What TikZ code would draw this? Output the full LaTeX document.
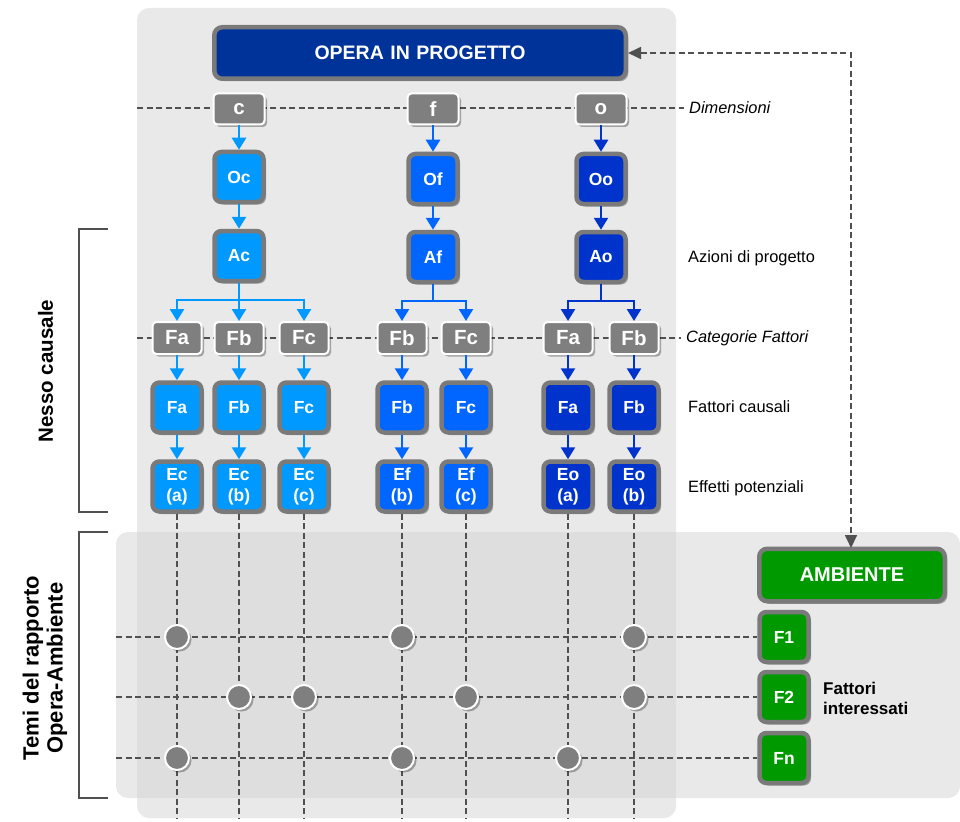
\documentclass[tikz,border=0pt]{standalone}
\usepackage{fontspec}
\setmainfont{Liberation Sans}
\usetikzlibrary{arrows.meta,shadows}
\definecolor{panel}{HTML}{E9E9E9}
\definecolor{overlap}{HTML}{DEDEDE}
\definecolor{bordergray}{HTML}{7A7A7A}
\definecolor{dimgray}{HTML}{7F7F7F}
\definecolor{dashgray}{HTML}{505050}
\definecolor{cblue}{HTML}{0099FF}
\definecolor{fblue}{HTML}{0066FF}
\definecolor{oblue}{HTML}{0033CC}
\definecolor{opblue}{HTML}{003399}
\definecolor{envgreen}{HTML}{009900}
\tikzset{
  shad/.style={drop shadow={shadow xshift=2.5pt,shadow yshift=-2.5pt,opacity=0.3,fill=black}},
  bigbox/.style={shad,rounded corners=8pt,line width=4.5pt,draw=bordergray,text=white,
    font=\bfseries\fontsize{20}{22}\selectfont},
  sqbox/.style={shad,rounded corners=7pt,line width=4.5pt,draw=bordergray,text=white,
    minimum width=49pt,minimum height=50pt,inner sep=0pt,align=center,
    font=\bfseries\fontsize{17.5}{21}\selectfont},
  dimbox/.style={shad,rounded corners=4pt,line width=2pt,draw=white,fill=dimgray,text=white,
    minimum width=51pt,minimum height=31pt,inner sep=0pt,
    font=\bfseries\fontsize{20.5}{22}\selectfont},
  dot/.style={shad,circle,fill=dimgray,draw=white,line width=2pt,minimum size=24pt,inner sep=0pt},
  dline/.style={dashgray,line width=1.7pt,dash pattern=on 6pt off 3.5pt},
  arr/.style={line width=2.5pt,-{Triangle[width=14pt,length=12pt]}},
  lab/.style={anchor=west,text=black,font=\fontsize{16.4}{18}\selectfont,inner sep=0pt},
  ilab/.style={lab,font=\itshape\fontsize{16.4}{18}\selectfont},
  side/.style={rotate=90,align=center,font=\bfseries\fontsize{20.5}{24}\selectfont},
}
\begin{document}
\begin{tikzpicture}[x=1pt,y=-1pt]
\useasboundingbox (0,0) rectangle (960,821);
% panels
\fill[panel,rounded corners=12pt] (137,8) rectangle (676,818);
\fill[panel,rounded corners=12pt] (116,532) rectangle (960,798);
\fill[overlap] (137,532) rectangle (676,798);
% dashed row lines
\draw[dline] (137,108) -- (684,108);
\draw[dline] (137,338) -- (681,338);
% nodes top
\node[bigbox,fill=opblue,minimum width=411.5pt,minimum height=51.5pt,font=\bfseries\fontsize{19.5}{22}\selectfont] (op) at (420,53) {OPERA\,\,IN\,\,PROGETTO};
\node[dimbox] (dc) at (239,109) {c};
\node[dimbox] (df) at (433,109) {f};
\node[dimbox] (do) at (601,109) {o};
\node[sqbox,fill=cblue] (oc) at (239,177) {Oc};
\node[sqbox,fill=fblue] (of) at (433,179) {Of};
\node[sqbox,fill=oblue] (oo) at (601,179) {Oo};
\node[sqbox,fill=cblue] (ac) at (239,256) {Ac};
\node[sqbox,fill=fblue] (af) at (433,257) {Af};
\node[sqbox,fill=oblue] (ao) at (601,257) {Ao};
% categories
\foreach \n/\x/\t in {k1/177/Fa,k2/239/Fb,k3/304/Fc,k4/402/Fb,k5/466/Fc,k6/568/Fa,k7/634/Fb}
  \node[dimbox,minimum width=49pt,minimum height=32pt] (\n) at (\x,338) {\t};
% factors and effects
\foreach \n/\x/\t/\e/\c in {1/177/Fa/Ec\\(a)/cblue,2/239/Fb/Ec\\(b)/cblue,3/304/Fc/Ec\\(c)/cblue,
   4/402/Fb/Ef\\(b)/fblue,5/466/Fc/Ef\\(c)/fblue,6/568/Fa/Eo\\(a)/oblue,7/634/Fb/Eo\\(b)/oblue}{
  \node[sqbox,fill=\c] (f\n) at (\x,407.5) {\t};
  \node[sqbox,fill=\c] (e\n) at (\x,486.5) {\e};
}
% arrows
\draw[arr,cblue] (dc) -- (oc);
\draw[arr,fblue] (df) -- (of);
\draw[arr,oblue] (do) -- (oo);
\draw[arr,cblue] (oc) -- (ac);
\draw[arr,fblue] (of) -- (af);
\draw[arr,oblue] (oo) -- (ao);
\coordinate (jc) at (239,300);
\coordinate (jf) at (433,301);
\coordinate (jo) at (601,301);
\draw[line width=2.5pt,cblue] (ac.south) -- (jc);
\draw[line width=2.5pt,fblue] (af.south) -- (jf);
\draw[line width=2.5pt,oblue] (ao.south) -- (jo);
\draw[arr,cblue] (jc) -| (k1);
\draw[arr,cblue] (jc) -- (k2);
\draw[arr,cblue] (jc) -| (k3);
\draw[arr,fblue] (jf) -| (k4);
\draw[arr,fblue] (jf) -| (k5);
\draw[arr,oblue] (jo) -| (k6);
\draw[arr,oblue] (jo) -| (k7);
\foreach \i/\c in {1/cblue,2/cblue,3/cblue,4/fblue,5/fblue,6/oblue,7/oblue}{
  \draw[arr,\c] (k\i) -- (f\i);
  \draw[arr,\c] (f\i) -- (e\i);
}
% environment
\node[bigbox,fill=envgreen,minimum width=185.5pt,minimum height=52.5pt] (amb) at (852,575) {AMBIENTE};
\node[sqbox,fill=envgreen] (g1) at (784,637) {F1};
\node[sqbox,fill=envgreen] (g2) at (784,697) {F2};
\node[sqbox,fill=envgreen] (g3) at (784,758) {Fn};
\node[anchor=west,align=left,inner sep=0pt,font=\bfseries\fontsize{17}{20}\selectfont] (fi) at (823,698) {Fattori\\interessati};
% dashed grid
\coordinate (r1) at (116,637);
\coordinate (r2) at (116,697);
\coordinate (r3) at (116,758);
\foreach \i/\x in {1/177,2/239,3/304,4/402,5/466,6/568,7/634}{
  \coordinate (v\i) at (\x,818);
  \draw[dline] (e\i.south) -- (v\i);
}
\draw[dline] (r1) -- (g1.west);
\draw[dline] (r2) -- (g2.west);
\draw[dline] (r3) -- (g3.west);
\foreach \n/\x/\y in {p1/177/637,p2/402/637,p3/634/637,p4/239/697,p5/304/697,p6/466/697,p7/634/697,p8/177/758,p9/402/758,p10/568/758}
  \node[dot] (\n) at (\x,\y) {};
% opera-ambiente link
\coordinate (cn) at (851,53);
\draw[dline,{Triangle[width=12pt,length=13pt]}-{Triangle[width=12pt,length=13pt]}] (op.east) -- (cn) -- (851,548) coordinate (an);
% right labels
\node[ilab] (l1) at (689,108) {Dimensioni};
\node[lab] (l2) at (688,258) {Azioni di progetto};
\node[ilab] (l3) at (686,338) {Categorie Fattori};
\node[lab] (l4) at (688,407) {Fattori causali};
\node[lab] (l5) at (688,488) {Effetti potenziali};
% brackets
\draw[dashgray,line width=1.2pt] (108,229) -- (79,229) -- (79,512) -- (108,512);
\draw[dashgray,line width=1.2pt] (108,532) -- (79,532) -- (79,798) -- (108,798);
\node[side] (s1) at (45.5,371) {Nesso causale};
\node[side,font=\bfseries\fontsize{22}{24}\selectfont] (s2) at (45,668) {Temi del rapporto\\Opera-Ambiente};
\end{tikzpicture}
\end{document}
